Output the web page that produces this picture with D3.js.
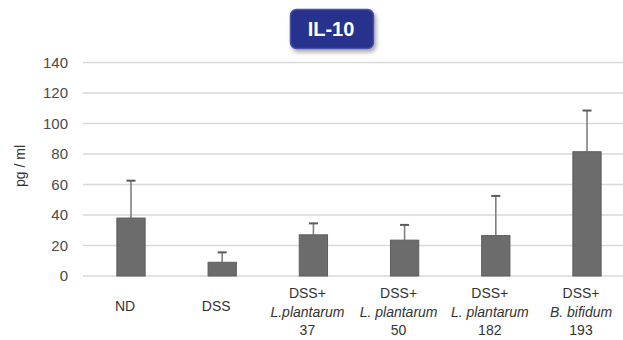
<!DOCTYPE html>
<html>
<head>
<meta charset="utf-8">
<script src="https://cdn.jsdelivr.net/npm/d3@7"></script>
<style>
  html, body { margin: 0; padding: 0; background: #fff; }
  svg { display: block; }
</style>
</head>
<body>
<svg id="chart" width="623" height="340"></svg>
<script>
// IL-10 concentration (pg/ml) per treatment group: mean and upper error (SD)
const groups = [
  ["ND"],
  ["DSS"],
  ["DSS+", "L.plantarum", "37"],
  ["DSS+", "L. plantarum", "50"],
  ["DSS+", "L. plantarum", "182"],
  ["DSS+", "B. bifidum", "193"]
];
const groupKeys = ["ND", "DSS", "LP37", "LP50", "LP182", "BB193"];
const means = [38, 9, 27, 23.5, 26.5, 81.5];
const errors = [24.5, 6.5, 7.5, 10, 26, 27];
const yTicks = [0, 20, 40, 60, 80, 100, 120, 140];
const chartTitle = "IL-10";
const yLabel = "pg / ml";

const svg = d3.select("#chart");
const font = "'Liberation Sans', Arial, sans-serif";

const plotLeft = 83, plotTop = 62.5, plotBottom = 276;
const bandPad = 0.69;
const x = d3.scaleBand()
  .domain(groupKeys)
  .range([85.4, 632.6])
  .paddingInner(bandPad)
  .paddingOuter(bandPad / 2);
const y = d3.scaleLinear().domain([0, 140]).range([plotBottom, plotTop]);

// horizontal gridlines
svg.append("g")
  .selectAll("line")
  .data(yTicks)
  .join("line")
  .attr("x1", plotLeft)
  .attr("x2", 640)
  .attr("y1", d => y(d))
  .attr("y2", d => y(d))
  .attr("stroke", "#d9d9d9")
  .attr("stroke-width", 1.5);

// y axis tick labels
const yAxis = svg.append("g")
  .attr("transform", "translate(68,0)")
  .call(d3.axisLeft(y).tickValues(yTicks).tickSize(0).tickPadding(0));
yAxis.select(".domain").remove();
yAxis.selectAll("text")
  .attr("font-family", font)
  .attr("font-size", 15)
  .attr("fill", "#4a4a4a");

// y axis title
svg.append("text")
  .attr("transform", "translate(25,166) rotate(-90)")
  .attr("text-anchor", "middle")
  .attr("font-family", font)
  .attr("font-size", 14)
  .attr("fill", "#333")
  .text(yLabel);

// error bars (upper only)
const eb = svg.append("g");
groupKeys.forEach((k, i) => {
  const cx = x(k) + x.bandwidth() / 2;
  eb.append("line")
    .attr("x1", cx).attr("x2", cx)
    .attr("y1", y(means[i])).attr("y2", y(means[i] + errors[i]))
    .attr("stroke", "#808080").attr("stroke-width", 1.6);
  eb.append("line")
    .attr("x1", cx - 4.5).attr("x2", cx + 4.5)
    .attr("y1", y(means[i] + errors[i])).attr("y2", y(means[i] + errors[i]))
    .attr("stroke", "#5a5a5a").attr("stroke-width", 2);
});

// bars
svg.append("g")
  .selectAll("rect")
  .data(groupKeys)
  .join("rect")
  .attr("x", d => x(d))
  .attr("width", x.bandwidth())
  .attr("y", (d, i) => y(means[i]))
  .attr("height", (d, i) => y(0) - y(means[i]))
  .attr("fill", "#6c6c6c")
  .attr("stroke", "#5e5e5e")
  .attr("stroke-width", 1);

// category labels
const cat = svg.append("g");
groupKeys.forEach((k, i) => {
  const cx = x(k) + x.bandwidth() / 2 - 6;
  const lines = groups[i];
  const t = cat.append("text")
    .attr("text-anchor", "middle")
    .attr("font-family", font)
    .attr("font-size", 14)
    .attr("fill", "#333");
  if (lines.length === 1) {
    t.attr("x", cx).attr("y", 311).text(lines[0]);
  } else {
    lines.forEach((ln, j) => {
      t.append("tspan")
        .attr("x", cx)
        .attr("y", 298 + j * 18.5)
        .attr("font-style", j === 1 ? "italic" : "normal")
        .text(ln);
    });
  }
});

// title badge
const defs = svg.append("defs");
const f = defs.append("filter").attr("id", "shadow")
  .attr("x", "-20%").attr("y", "-30%").attr("width", "150%").attr("height", "180%");
f.append("feDropShadow")
  .attr("dx", 2).attr("dy", 3).attr("stdDeviation", 2)
  .attr("flood-color", "#000").attr("flood-opacity", 0.35);

svg.append("rect")
  .attr("x", 290.5).attr("y", 9.5)
  .attr("width", 83).attr("height", 39)
  .attr("rx", 6).attr("ry", 6)
  .attr("fill", "#26318c")
  .attr("stroke", "#4652a6")
  .attr("stroke-width", 1.5)
  .attr("filter", "url(#shadow)");

svg.append("text")
  .attr("x", 331).attr("y", 36)
  .attr("text-anchor", "middle")
  .attr("font-family", font)
  .attr("font-size", 20)
  .attr("font-weight", "bold")
  .attr("fill", "#fff")
  .text(chartTitle);
</script>
</body>
</html>
